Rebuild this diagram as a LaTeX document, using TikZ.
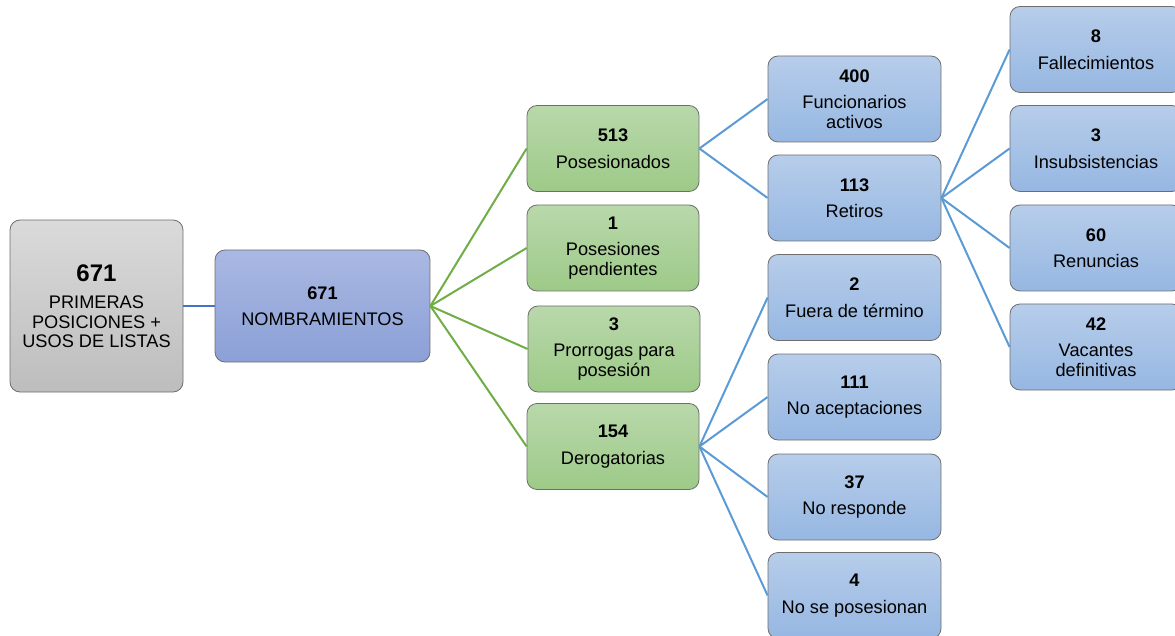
\documentclass[tikz,border=0pt]{standalone}
\usepackage{fontspec}
\setmainfont{Liberation Sans}
\definecolor{boxborder}{HTML}{6E6E6E}
\definecolor{graytop}{HTML}{DADADA}
\definecolor{graybot}{HTML}{BDBDBD}
\definecolor{purtop}{HTML}{AAB8E2}
\definecolor{purbot}{HTML}{8BA0D7}
\definecolor{greentop}{HTML}{B9D8AB}
\definecolor{greenbot}{HTML}{9DCA88}
\definecolor{bluetop}{HTML}{B7CDEA}
\definecolor{bluebot}{HTML}{96B7E2}
\definecolor{greenline}{HTML}{70AD47}
\definecolor{blueline}{HTML}{5B9BD5}
\definecolor{darkline}{HTML}{4472C4}
\tikzset{
  box/.style={draw=boxborder, line width=0.8pt, rounded corners=10pt,
    minimum width=172pt, minimum height=86pt, align=center, inner sep=2pt,
    font=\fontsize{18.2}{19.5}\selectfont},
  graybox/.style={box, top color=graytop, bottom color=graybot},
  purbox/.style={box, top color=purtop, bottom color=purbot},
  greenbox/.style={box, top color=greentop, bottom color=greenbot},
  bluebox/.style={box, top color=bluetop, bottom color=bluebot},
  gline/.style={draw=greenline, line width=2pt},
  bline/.style={draw=blueline, line width=2pt},
  dline/.style={draw=darkline, line width=2pt},
}
\begin{document}
\begin{tikzpicture}[x=1pt,y=-1pt]
\useasboundingbox (0,0) rectangle (1175,636);
% root
\node[graybox, minimum width=173pt, minimum height=172pt] (root) at (96.5,306)
  {{\fontsize{24}{26}\selectfont\bfseries 671}\\[8pt]PRIMERAS\\POSICIONES +\\USOS DE LISTAS};
\node[purbox, minimum width=215pt, minimum height=112pt] (nom) at (322.5,306)
  {{\bfseries 671}\\[7pt]NOMBRAMIENTOS};
% level 2
\node[greenbox] (pos) at (613,148.5) {{\bfseries 513}\\[7pt]Posesionados};
\node[greenbox] (pend) at (613,248) {{\bfseries 1}\\[7pt]Posesiones\\pendientes};
\node[greenbox] (pro) at (614,349) {{\bfseries 3}\\[7pt]Prorrogas para\\posesión};
\node[greenbox] (der) at (613,446.5) {{\bfseries 154}\\[7pt]Derogatorias};
% level 3
\node[bluebox, minimum width=173pt] (fun) at (854.5,99) {{\bfseries 400}\\[7pt]Funcionarios\\activos};
\node[bluebox, minimum width=173pt] (ret) at (854.5,198) {{\bfseries 113}\\[7pt]Retiros};
\node[bluebox, minimum width=173pt] (fue) at (854.5,297.5) {{\bfseries 2}\\[7pt]Fuera de término};
\node[bluebox, minimum width=173pt] (noa) at (854.5,397) {{\bfseries 111}\\[7pt]No aceptaciones};
\node[bluebox, minimum width=173pt] (nor) at (854.5,497) {{\bfseries 37}\\[7pt]No responde};
\node[bluebox, minimum width=173pt] (nos) at (854.5,595.5) {{\bfseries 4}\\[7pt]No se posesionan};
% level 4
\node[bluebox] (fal) at (1096,49.5) {{\bfseries 8}\\[7pt]Fallecimientos};
\node[bluebox] (ins) at (1096,148.5) {{\bfseries 3}\\[7pt]Insubsistencias};
\node[bluebox] (ren) at (1096,248) {{\bfseries 60}\\[7pt]Renuncias};
\node[bluebox] (vac) at (1096,347) {{\bfseries 42}\\[7pt]Vacantes\\definitivas};
% connectors
\draw[dline] (root.east) -- (nom.west);
\foreach \t in {pos,pend,pro,der} \draw[gline] (nom.east) -- (\t.west);
\foreach \t in {fun,ret} \draw[bline] (pos.east) -- (\t.west);
\foreach \t in {fal,ins,ren,vac} \draw[bline] (ret.east) -- (\t.west);
\foreach \t in {fue,noa,nor,nos} \draw[bline] (der.east) -- (\t.west);
\end{tikzpicture}
\end{document}
